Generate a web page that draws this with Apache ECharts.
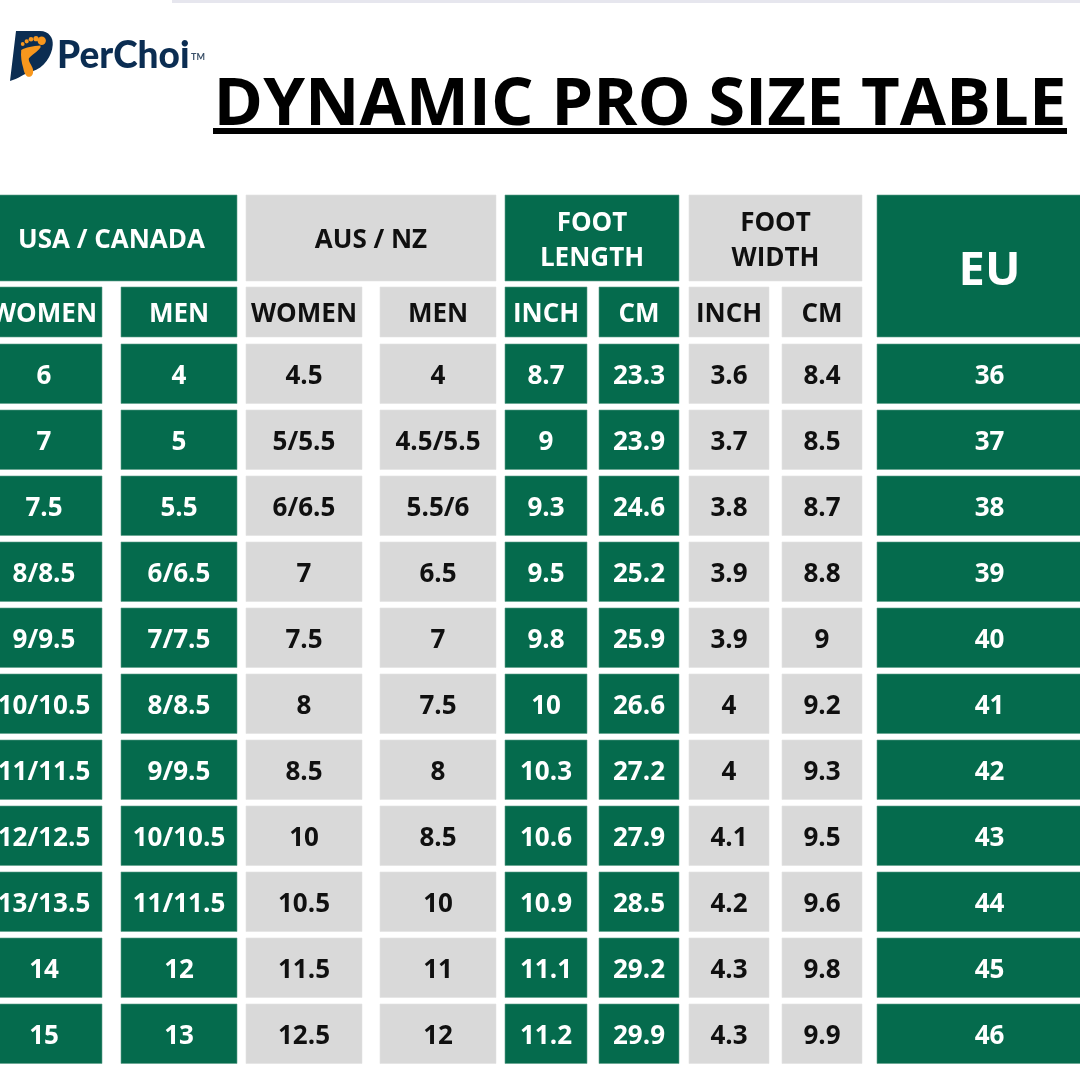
<!DOCTYPE html>
<html>
<head>
<meta charset="utf-8">
<style>html,body{margin:0;padding:0;background:#fff}#c{width:1080px;height:1080px}</style>
<script src="https://cdn.jsdelivr.net/npm/echarts@6/dist/echarts.min.js"></script>
</head>
<body>
<div id="c"></div>
<script>
// ---- data ----
const titleText = 'DYNAMIC PRO SIZE TABLE';
const brandName = 'PerChoi';
const brandMark = 'TM';
const groupHeaders = ['USA / CANADA', 'AUS / NZ', 'FOOT\nLENGTH', 'FOOT\nWIDTH', 'EU'];
const subHeaders = ['WOMEN', 'MEN', 'WOMEN', 'MEN', 'INCH', 'CM', 'INCH', 'CM'];
const usaWomen = ['6','7','7.5','8/8.5','9/9.5','10/10.5','11/11.5','12/12.5','13/13.5','14','15'];
const usaMen = ['4','5','5.5','6/6.5','7/7.5','8/8.5','9/9.5','10/10.5','11/11.5','12','13'];
const ausWomen = ['4.5','5/5.5','6/6.5','7','7.5','8','8.5','10','10.5','11.5','12.5'];
const ausMen = ['4','4.5/5.5','5.5/6','6.5','7','7.5','8','8.5','10','11','12'];
const lengthInch = ['8.7','9','9.3','9.5','9.8','10','10.3','10.6','10.9','11.1','11.2'];
const lengthCm = ['23.3','23.9','24.6','25.2','25.9','26.6','27.2','27.9','28.5','29.2','29.9'];
const widthInch = ['3.6','3.7','3.8','3.9','3.9','4','4','4.1','4.2','4.3','4.3'];
const widthCm = ['8.4','8.5','8.7','8.8','9','9.2','9.3','9.5','9.6','9.8','9.9'];
const euSizes = ['36','37','38','39','40','41','42','43','44','45','46'];
const columns = [usaWomen, usaMen, ausWomen, ausMen, lengthInch, lengthCm, widthInch, widthCm, euSizes];

// ---- layout & style ----
const GREEN = '#056b4d', GREY = '#d9d9d9', NAVY = '#0b2d52', ORANGE = '#f8971d';
const FONT = '"Open Sans", sans-serif';
const colEdges = [[-14,102],[121,237],[246,362],[380,496],[505,587],[599,679],[689,769],[782,862],[877,1102]];
const colFill = [GREEN,GREEN,GREY,GREY,GREEN,GREEN,GREY,GREY,GREEN];
const groupSpans = [[0,1],[2,3],[4,5],[6,7],[8,8]];
const groupFill = [GREEN,GREY,GREEN,GREY,GREEN];
const firstRowTop = 344, rowPitch = 66, rowHeight = 59.5;

function box(api, x0, y0, x1, y1, fill, text, size, dy) {
  const a = api.coord([x0, y0]), b = api.coord([x1, y1]);
  const dark = fill === GREY;
  return {
    type: 'group',
    children: [
      { type: 'rect', shape: { x: a[0], y: a[1], width: b[0]-a[0], height: b[1]-a[1] },
        style: { fill: fill, stroke: dark ? '#e2e2e2' : '#5f9f8a', lineWidth: 0.6 } },
      { type: 'text', x: (a[0]+b[0])/2, y: (a[1]+b[1])/2 + dy,
        style: { text: text, fill: dark ? '#101010' : '#ffffff', align: 'center', verticalAlign: 'middle',
                 font: '700 ' + size + 'px ' + FONT, lineHeight: 35 } }
    ]
  };
}

const cellData = [];
columns.forEach((col, c) => col.forEach((v, r) => cellData.push([c, r, v])));
const subData = subHeaders.map((v, c) => [c, v]);
const groupData = groupHeaders.map((v, g) => [g, v]);

const footPath = 'M40.5 45.5 C33 46 26 47.5 21.5 50 C20.8 56 22 63 23.5 68 C24.5 73.5 26.5 76.8 29 76.8 C32.5 76.8 34 73 33 69 C32 65 28.5 62 29 58.5 C31.5 55 37 52.5 40.5 47.5 Z';
const logoPath = 'M16 31 L40 31 C49 31 53.5 38 52.7 45 C52 56 44 68 32 71.5 C24 73.5 18 79 10 81 Z';

const option = {
  animation: false,
  backgroundColor: '#ffffff',
  grid: { left: 0, right: 0, top: 0, bottom: 0, containLabel: false },
  xAxis: { type: 'value', min: 0, max: 1080, show: false },
  yAxis: { type: 'value', min: 0, max: 1080, inverse: true, show: false },
  graphic: [
    { type: 'rect', shape: { x: 172, y: 0, width: 908, height: 3 }, style: { fill: '#e6e6ee' } },
    { type: 'text', x: 640, y: 105.5, style: { text: titleText, fill: '#000000', align: 'center', verticalAlign: 'middle', font: '700 67px ' + FONT } },
    { type: 'rect', shape: { x: 213, y: 128, width: 854, height: 6 }, style: { fill: '#000000' } }
  ],
  series: [
    { type: 'custom', coordinateSystem: 'cartesian2d', silent: true, clip: false, data: groupData,
      renderItem: (p, api) => {
        const g = api.value(0), s = groupSpans[g];
        const eu = g === 4;
        return box(api, colEdges[s[0]][0], 195, colEdges[s[1]][1], eu ? 337 : 281, groupFill[g], groupHeaders[g], eu ? 47 : 26, eu ? 6 : 3);
      }, encode: { x: 0, y: 0 } },
    { type: 'custom', coordinateSystem: 'cartesian2d', silent: true, clip: false, data: subData,
      renderItem: (p, api) => {
        const c = api.value(0);
        return box(api, colEdges[c][0], 287, colEdges[c][1], 337, colFill[c], subHeaders[c], 26, 3);
      }, encode: { x: 0, y: 0 } },
    { type: 'custom', coordinateSystem: 'cartesian2d', silent: true, clip: false, data: cellData,
      renderItem: (p, api) => {
        const d = cellData[p.dataIndex], c = d[0], top = firstRowTop + d[1] * rowPitch;
        return box(api, colEdges[c][0], top, colEdges[c][1], top + rowHeight, colFill[c], d[2], 26, 2.5);
      }, encode: { x: 0, y: 1 } },
    { type: 'custom', coordinateSystem: 'cartesian2d', silent: true, clip: false, data: [[0, 0]],
      renderItem: () => ({
        type: 'group',
        children: [
          { type: 'path', shape: { pathData: logoPath, x: 10, y: 31, width: 42.8, height: 50, layout: 'cover' }, style: { fill: NAVY } },
          { type: 'path', shape: { pathData: footPath, x: 21, y: 45.5, width: 19.5, height: 31.3, layout: 'cover' }, style: { fill: ORANGE } },
          { type: 'circle', shape: { cx: 41.7, cy: 40.7, r: 4.2 }, style: { fill: ORANGE } },
          { type: 'circle', shape: { cx: 36, cy: 38.7, r: 2.6 }, style: { fill: ORANGE } },
          { type: 'circle', shape: { cx: 31, cy: 39.3, r: 2.3 }, style: { fill: ORANGE } },
          { type: 'circle', shape: { cx: 26.7, cy: 41.3, r: 2.1 }, style: { fill: ORANGE } },
          { type: 'circle', shape: { cx: 22.7, cy: 44, r: 1.9 }, style: { fill: ORANGE } },
          { type: 'text', x: 57, y: 74.5, style: { text: brandName, fill: NAVY, align: 'left', verticalAlign: 'bottom', font: '900 37px Lato, sans-serif' } },
          { type: 'text', x: 191, y: 62, style: { text: brandMark, fill: '#3a5068', align: 'left', verticalAlign: 'bottom', font: '700 9px Lato, sans-serif' } }
        ]
      }), encode: { x: 0, y: 1 } }
  ]
};
const chart = echarts.init(document.getElementById('c'), null, { width: 1080, height: 1080, renderer: 'canvas' });
chart.setOption(option);
</script>
</body>
</html>
